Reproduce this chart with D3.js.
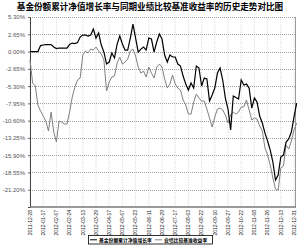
<!DOCTYPE html>
<html>
<head>
<meta charset="utf-8">
<script src="https://cdn.jsdelivr.net/npm/d3@7"></script>
<style>
  body { margin: 0; background: #fff; }
  svg { display: block; }
</style>
</head>
<body>
<div id="chart"></div>
<script>
// x tick labels (one every 5 samples)
const dateLabels = [
    "2011-12-28", "2012-01-17", "2012-02-07", "2012-02-24", "2012-03-13",
    "2012-03-29", "2012-04-17", "2012-05-07", "2012-05-23", "2012-06-11",
    "2012-06-29", "2012-07-17", "2012-08-03", "2012-08-22", "2012-09-10",
    "2012-09-27", "2012-10-22", "2012-11-08", "2012-11-26", "2012-12-13",
    "2012-12-31"
];

const yTicks = [5.30, 2.65, 0, -2.65, -5.30, -7.95, -10.60, -13.25, -15.90, -18.55, -21.20];

// 基金份额累计净值增长率 (%)
const fundValues = [
    0.00, 0.00, 0.00, 0.00, 0.92, 1.00, 1.07, 1.07, 1.07, 0.69,
    0.46, 0.54, 0.54, 0.54, 0.54, 1.07, 1.30, 1.23, 1.38, 2.22,
    2.53, 2.53, 2.38, 2.53, 3.45, 2.07, 2.84, 1.00, -0.08, -1.92,
    -1.61, -0.23, -0.99, 1.15, 2.38, 1.15, 0.23, 0.23, 2.07, 4.22,
    2.07, -0.08, 0.38, 0.69, 0.23, 2.07, 1.92, -0.08, 1.46, 2.68,
    1.92, -0.54, -1.61, -0.54, -0.84, -0.84, -1.92, -2.22, -3.76, -4.99,
    -5.91, -4.83, -5.60, -2.22, -2.53, -5.29, -4.07, -4.22, -7.59, -6.67,
    -5.60, -3.30, -2.53, -4.37, -7.13, -8.82, -12.04, -6.83, -7.06, -7.29,
    -4.37, -5.14, -4.99, -5.60, -8.67, -7.13, -7.75, -9.90, -10.97, -12.51,
    -13.73, -15.11, -16.95, -19.71, -18.95, -16.18, -15.88, -13.88, -13.42, -12.35,
    -10.05, -7.90
];

// 业绩比较基准收益率 (%)
const benchValues = [
    -1.30, -4.83, -5.29, -8.21, -9.13, -9.90, -10.66, -12.20, -9.28, -12.35,
    -13.88, -10.66, -10.81, -11.12, -11.12, -9.28, -6.98, -5.45, -4.37, -4.07,
    -0.54, 0.08, -0.23, 0.38, 0.23, 0.69, 0.08, -0.38, -1.30, -6.06,
    -4.68, -3.91, -3.76, -1.76, -0.84, -1.92, -1.61, -1.15, 0.08, 0.38,
    -0.69, -2.38, -3.30, -2.99, -3.91, -2.38, -3.30, -4.07, -2.38, -1.92,
    -2.38, -4.22, -5.60, -4.99, -3.60, -4.99, -5.60, -5.91, -7.44, -8.21,
    -9.59, -9.59, -7.75, -6.52, -7.13, -7.59, -7.59, -8.82, -10.20, -11.58,
    -10.05, -8.82, -8.67, -8.97, -9.74, -10.97, -9.74, -9.28, -9.59, -9.28,
    -8.51, -8.51, -7.44, -8.97, -10.51, -10.20, -10.35, -11.43, -12.20, -14.80,
    -15.88, -17.41, -19.40, -21.09, -21.25, -17.87, -17.56, -14.34, -14.96, -13.73,
    -12.04, -11.00
];

const width = 300, height = 247;
const plotLeft = 30, plotRight = 295, plotTop = 17, plotBottom = 207;
const sansFont = "'Liberation Sans', Arial, sans-serif";
const cjkFont = "'Noto Sans CJK SC', sans-serif";

const svg = d3.select("#chart").append("svg")
    .attr("width", width)
    .attr("height", height);

const x = d3.scaleLinear().domain([0, 100]).range([plotLeft, 294]);
const y = d3.scaleLinear().domain([-23.85, 5.30]).range([plotBottom, plotTop]);

// Title
svg.append("text")
    .attr("x", 150).attr("y", 10)
    .attr("text-anchor", "middle")
    .style("font-family", cjkFont)
    .style("font-weight", "bold")
    .style("font-size", "8.6px")
    .text("基金份额累计净值增长率与同期业绩比较基准收益率的历史走势对比图");

// vertical grid
svg.append("g")
    .selectAll("line")
    .data(dateLabels)
    .enter().append("line")
    .attr("x1", (d, i) => x(i * 5)).attr("x2", (d, i) => x(i * 5))
    .attr("y1", plotTop).attr("y2", plotBottom)
    .attr("stroke", "#c8c8c8")
    .attr("stroke-width", 0.8)
    .attr("stroke-dasharray", "1,1.5");

// horizontal grid
svg.append("g")
    .selectAll("line")
    .data(yTicks)
    .enter().append("line")
    .attr("x1", plotLeft).attr("x2", plotRight)
    .attr("y1", d => Math.round(y(d)) + 0.5).attr("y2", d => Math.round(y(d)) + 0.5)
    .attr("stroke", "#888")
    .attr("stroke-width", 0.8)
    .attr("stroke-dasharray", "1,1");

// right border
svg.append("line")
    .attr("x1", plotRight + 0.5).attr("x2", plotRight + 0.5)
    .attr("y1", plotTop).attr("y2", plotBottom)
    .attr("stroke", "#999");

// y axis
const yAxis = svg.append("g")
    .attr("transform", `translate(${plotLeft},0)`)
    .call(d3.axisLeft(y).tickValues(yTicks).tickSize(2).tickFormat(d => d.toFixed(2) + "%"));
yAxis.select(".domain").attr("stroke", "#444");
yAxis.selectAll(".tick line").attr("stroke", "#666");
yAxis.selectAll("text")
    .attr("fill", "#555")
    .style("font-family", sansFont)
    .style("font-size", "6px");

// bottom axis line
svg.append("line")
    .attr("x1", plotLeft).attr("x2", plotRight + 1)
    .attr("y1", plotBottom).attr("y2", plotBottom)
    .attr("stroke", "#777")
    .attr("stroke-width", 1.6);

// x labels
svg.append("g")
    .selectAll("text")
    .data(dateLabels)
    .enter().append("text")
    .attr("transform", (d, i) => `translate(${x(i * 5) + 1.8},${plotBottom + 3}) rotate(-90)`)
    .attr("text-anchor", "end")
    .attr("fill", "#222")
    .style("font-family", sansFont)
    .style("font-size", "5px")
    .text(d => d);

const line = d3.line()
    .x((d, i) => x(i))
    .y(d => y(d));

svg.append("path")
    .datum(benchValues)
    .attr("fill", "none")
    .attr("stroke", "#808080")
    .attr("stroke-width", 1)
    .attr("d", line);

svg.append("path")
    .datum(fundValues)
    .attr("fill", "none")
    .attr("stroke", "#000")
    .attr("stroke-width", 1.2)
    .attr("d", line);

// legend
const legend = svg.append("g").attr("transform", "translate(88,235)");
legend.append("rect")
    .attr("x", 0.5).attr("y", 0.5)
    .attr("width", 124).attr("height", 8.5)
    .attr("fill", "#fff")
    .attr("stroke", "#000")
    .attr("stroke-width", 0.8);

const legendItems = [
    { name: "基金份额累计净值增长率", color: "#000", x: 2 },
    { name: "业绩比较基准收益率", color: "#808080", x: 67 }
];
legendItems.forEach(item => {
    legend.append("line")
        .attr("x1", item.x).attr("x2", item.x + 7)
        .attr("y1", 4.8).attr("y2", 4.8)
        .attr("stroke", item.color)
        .attr("stroke-width", 1);
    legend.append("text")
        .attr("x", item.x + 9).attr("y", 6.6)
        .style("font-family", cjkFont)
        .style("font-weight", "bold")
        .style("font-size", "4.8px")
        .text(item.name);
});
</script>
</body>
</html>
